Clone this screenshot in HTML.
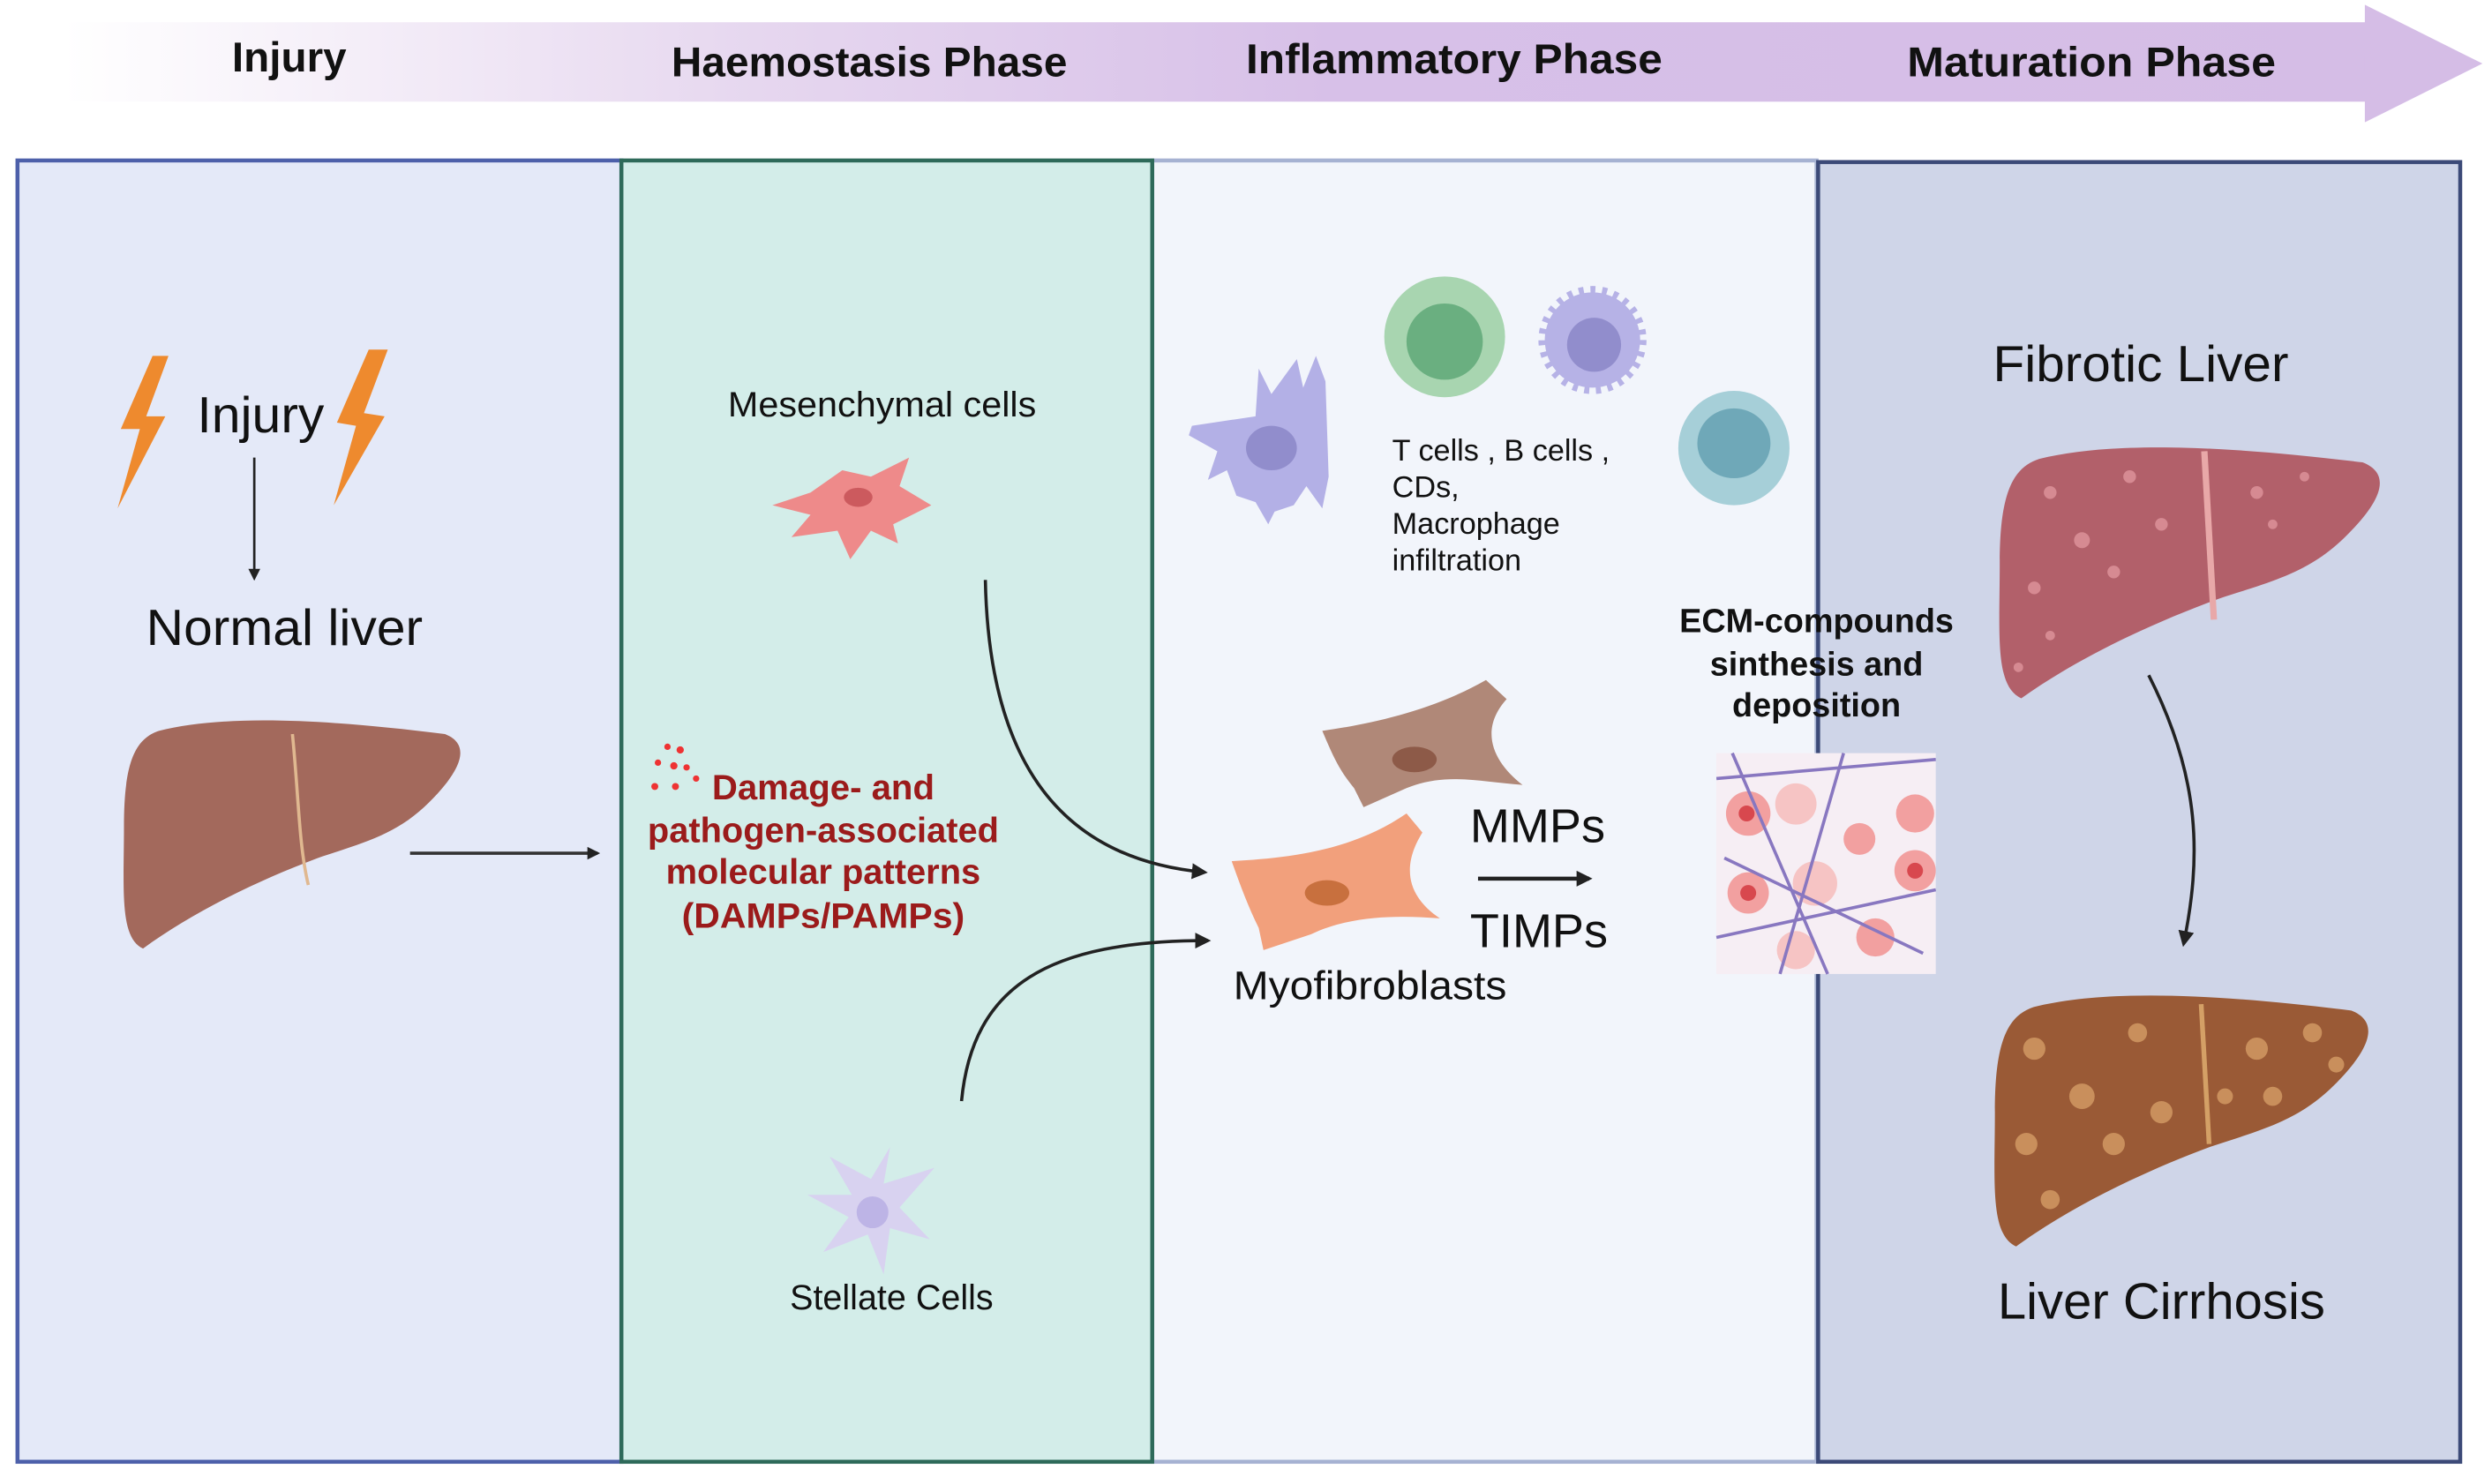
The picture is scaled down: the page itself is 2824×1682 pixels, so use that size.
<!DOCTYPE html>
<html><head><meta charset="utf-8"><style>
html,body{margin:0;padding:0;background:#fff}
svg{display:block}
text{font-family:"Liberation Sans",sans-serif}
</style></head><body>
<svg width="2824" height="1682" viewBox="0 0 1568 934" preserveAspectRatio="none" xmlns="http://www.w3.org/2000/svg">
<defs>
<linearGradient id="band" x1="0" x2="1" y1="0" y2="0">
<stop offset="0" stop-color="#ffffff"/><stop offset="0.3" stop-color="#e6d7ef"/><stop offset="0.55" stop-color="#d7c0e8"/><stop offset="1" stop-color="#d5bde6"/>
</linearGradient>
<marker id="ah" viewBox="0 0 10 10" refX="8" refY="5" markerWidth="5" markerHeight="5" orient="auto"><path d="M0,0L10,5L0,10z" fill="#222"/></marker>
<marker id="ah2" viewBox="0 0 10 10" refX="8" refY="5" markerWidth="4" markerHeight="4" orient="auto"><path d="M0,0L10,5L0,10z" fill="#222"/></marker>
<path id="liver" d="M24,8 C64,-2 124,0 204,10 C224,18 209,38 194,53 C174,73 154,78 124,88 C84,103 44,123 14,145 C-1,138 2,108 2,68 C2,28 9,13 24,8 Z"/>
</defs>
<rect x="40" y="14" width="1450" height="50" fill="url(#band)"/>
<polygon points="1488,3 1562,40 1488,77" fill="#d5bde6"/>
<g font-weight="bold" font-size="26" fill="#111" text-anchor="middle">
<text x="182" y="45" textLength="72" lengthAdjust="spacingAndGlyphs">Injury</text>
<text x="547" y="48" textLength="249" lengthAdjust="spacingAndGlyphs">Haemostasis Phase</text>
<text x="915" y="46" textLength="262" lengthAdjust="spacingAndGlyphs">Inflammatory Phase</text>
<text x="1316" y="48" textLength="232" lengthAdjust="spacingAndGlyphs">Maturation Phase</text>
</g>
<rect x="11" y="101" width="380" height="819" fill="#e4e9f8" stroke="#4d60aa" stroke-width="2.5"/>
<rect x="725" y="101" width="418" height="819" fill="#f2f5fb" stroke="#a6b2d2" stroke-width="2.5"/>
<rect x="1144" y="102" width="404" height="818" fill="#cfd5e8" stroke="#3c4a78" stroke-width="2.5"/>
<rect x="391" y="101" width="334" height="819" fill="#d3ede9" stroke="#2e6a5a" stroke-width="2.5"/>
<polygon points="96,224 106,224 92,262 104,262 74,320 88,270 76,270" fill="#ee8a2e"/>
<polygon points="232,220 244,220 229,260 242,262 210,318 224,268 212,266" fill="#ee8a2e"/>
<text x="164" y="272" font-size="32" text-anchor="middle" fill="#111" textLength="80" lengthAdjust="spacingAndGlyphs">Injury</text>
<line x1="160" y1="288" x2="160" y2="364" stroke="#222" stroke-width="1.5" marker-end="url(#ah)"/>
<text x="179" y="406" font-size="32" text-anchor="middle" fill="#111" textLength="174" lengthAdjust="spacingAndGlyphs">Normal liver</text>
<g transform="translate(76,452)"><use href="#liver" fill="#a3695c"/><path d="M108,10 C112,50 112,80 118,105" stroke="#e0b890" stroke-width="2" fill="none"/></g>
<line x1="258" y1="537" x2="376" y2="537" stroke="#333" stroke-width="2" marker-end="url(#ah2)"/>
<text x="555" y="262" font-size="22" text-anchor="middle" fill="#111" textLength="194" lengthAdjust="spacingAndGlyphs">Mesenchymal cells</text>
<path d="M486,318 L510,310 L530,296 L548,300 L572,288 L566,306 L586,318 L562,330 L565,342 L548,334 L535,352 L527,334 L498,338 L510,324 Z" fill="#ee8a8a"/>
<ellipse cx="540" cy="313" rx="9" ry="6" fill="#cc5a5e"/>
<g fill="#e33">
<circle cx="420" cy="470" r="2"/><circle cx="428" cy="472" r="2.3"/><circle cx="414" cy="480" r="2"/><circle cx="424" cy="482" r="2.3"/><circle cx="432" cy="483" r="2"/><circle cx="412" cy="495" r="2.2"/><circle cx="425" cy="495" r="2.2"/><circle cx="438" cy="490" r="2"/>
</g>
<g font-weight="bold" font-size="22" fill="#9b1b1b" text-anchor="middle">
<text x="518" y="503" textLength="140" lengthAdjust="spacingAndGlyphs">Damage- and</text>
<text x="518" y="530" textLength="221" lengthAdjust="spacingAndGlyphs">pathogen-associated</text>
<text x="518" y="556" textLength="198" lengthAdjust="spacingAndGlyphs">molecular patterns</text>
<text x="518" y="584" textLength="178" lengthAdjust="spacingAndGlyphs">(DAMPs/PAMPs)</text>
</g>
<path d="M620,365 C622,470 660,540 758,549" stroke="#222" stroke-width="2" fill="none" marker-end="url(#ah)"/>
<path d="M605,693 C612,620 660,592 760,592" stroke="#222" stroke-width="2" fill="none" marker-end="url(#ah)"/>
<path d="M548,742 L560,722 L556,745 L588,735 L566,760 L585,780 L560,773 L556,802 L546,777 L518,788 L534,766 L508,752 L536,752 L522,728 Z" fill="#d8d2f0"/>
<circle cx="549" cy="763" r="10" fill="#bdb4e6"/>
<text x="561" y="824" font-size="22" text-anchor="middle" fill="#111" textLength="128" lengthAdjust="spacingAndGlyphs">Stellate Cells</text>
<path d="M750,268 L790,262 L792,232 L800,248 L816,226 L820,244 L828,224 L834,240 L836,300 L832,320 L822,306 L814,318 L802,322 L798,330 L790,316 L778,312 L772,296 L760,302 L766,284 L748,274 Z" fill="#b3b0e6"/>
<ellipse cx="800" cy="282" rx="16" ry="14" fill="#918dcc"/>
<circle cx="909" cy="212" r="38" fill="#a8d5b0"/><circle cx="909" cy="215" r="24" fill="#6aaf80"/>
<circle cx="1002" cy="214" r="30" fill="#b6b2e6" stroke="#b6b2e6" stroke-width="8" stroke-dasharray="3 4"/>
<circle cx="1003" cy="217" r="17" fill="#918dcc"/>
<ellipse cx="1091" cy="282" rx="35" ry="36" fill="#a6cfd8"/><ellipse cx="1091" cy="279" rx="23" ry="22" fill="#6fa8b8"/>
<g font-size="19" fill="#111">
<text x="876" y="290">T cells , B cells ,</text>
<text x="876" y="313">CDs,</text>
<text x="876" y="336">Macrophage</text>
<text x="876" y="359">infiltration</text>
</g>
<path d="M832,460 C860,456 900,448 935,428 L948,440 C930,460 940,480 958,494 C930,492 910,486 885,496 L858,508 L852,496 C842,484 838,474 832,460 Z" fill="#b08878"/>
<ellipse cx="890" cy="478" rx="14" ry="8" fill="#8d5a48"/>
<path d="M775,542 C810,540 850,536 885,512 L895,524 C880,548 888,566 906,578 C880,576 850,576 825,588 L795,598 L792,584 C785,570 780,556 775,542 Z" fill="#f2a07c"/>
<ellipse cx="835" cy="562" rx="14" ry="8" fill="#c8703e"/>
<text x="925" y="530" font-size="30" fill="#111">MMPs</text>
<line x1="930" y1="553" x2="1000" y2="553" stroke="#222" stroke-width="2.5" marker-end="url(#ah2)"/>
<text x="925" y="596" font-size="30" fill="#111">TIMPs</text>
<text x="776" y="629" font-size="25" fill="#111" textLength="172" lengthAdjust="spacingAndGlyphs">Myofibroblasts</text>
<g font-weight="bold" font-size="21" fill="#111" text-anchor="middle">
<text x="1143" y="398">ECM-compounds</text>
<text x="1143" y="425">sinthesis and</text>
<text x="1143" y="451">deposition</text>
</g>
<rect x="1080" y="474" width="138" height="139" fill="#f6eef4"/>
<g fill="#f2a0a0"><circle cx="1100" cy="512" r="14"/><circle cx="1130" cy="506" r="13" fill="#f6c4c4"/><circle cx="1205" cy="512" r="12"/><circle cx="1100" cy="562" r="13"/><circle cx="1142" cy="556" r="14" fill="#f6c4c4"/><circle cx="1205" cy="548" r="13"/><circle cx="1170" cy="528" r="10"/><circle cx="1180" cy="590" r="12"/><circle cx="1130" cy="598" r="12" fill="#f6c4c4"/></g>
<g fill="#d8484e"><circle cx="1099" cy="512" r="5"/><circle cx="1205" cy="548" r="5"/><circle cx="1100" cy="562" r="5"/></g>
<g stroke="#8877c0" stroke-width="2" fill="none"><path d="M1080,490 L1218,478"/><path d="M1090,474 L1150,613"/><path d="M1080,590 L1218,560"/><path d="M1160,474 L1120,613"/><path d="M1085,540 L1210,600"/></g>
<text x="1347" y="240" font-size="32" text-anchor="middle" fill="#111" textLength="186" lengthAdjust="spacingAndGlyphs">Fibrotic Liver</text>
<g transform="translate(1256,280) scale(1.13,1.1)"><use href="#liver" fill="#b2606a"/></g>
<line x1="1387" y1="284" x2="1393" y2="390" stroke="#e8a8a8" stroke-width="4"/>
<g fill="#d68a92"><circle cx="1290" cy="310" r="4"/><circle cx="1310" cy="340" r="5"/><circle cx="1340" cy="300" r="4"/><circle cx="1280" cy="370" r="4"/><circle cx="1420" cy="310" r="4"/><circle cx="1450" cy="300" r="3"/><circle cx="1360" cy="330" r="4"/><circle cx="1290" cy="400" r="3"/><circle cx="1430" cy="330" r="3"/><circle cx="1330" cy="360" r="4"/><circle cx="1270" cy="420" r="3"/></g>
<path d="M1352,425 C1385,490 1385,540 1374,594" stroke="#222" stroke-width="2" fill="none" marker-end="url(#ah)"/>
<g transform="translate(1253,625) scale(1.11,1.1)"><use href="#liver" fill="#9a5a36"/></g>
<line x1="1385" y1="632" x2="1390" y2="720" stroke="#d4a066" stroke-width="3"/>
<g fill="#c98f5c"><circle cx="1280" cy="660" r="7"/><circle cx="1310" cy="690" r="8"/><circle cx="1345" cy="650" r="6"/><circle cx="1275" cy="720" r="7"/><circle cx="1420" cy="660" r="7"/><circle cx="1455" cy="650" r="6"/><circle cx="1360" cy="700" r="7"/><circle cx="1290" cy="755" r="6"/><circle cx="1430" cy="690" r="6"/><circle cx="1330" cy="720" r="7"/><circle cx="1470" cy="670" r="5"/><circle cx="1400" cy="690" r="5"/></g>
<text x="1360" y="830" font-size="32" text-anchor="middle" fill="#111" textLength="206" lengthAdjust="spacingAndGlyphs">Liver Cirrhosis</text>
</svg>
</body></html>
